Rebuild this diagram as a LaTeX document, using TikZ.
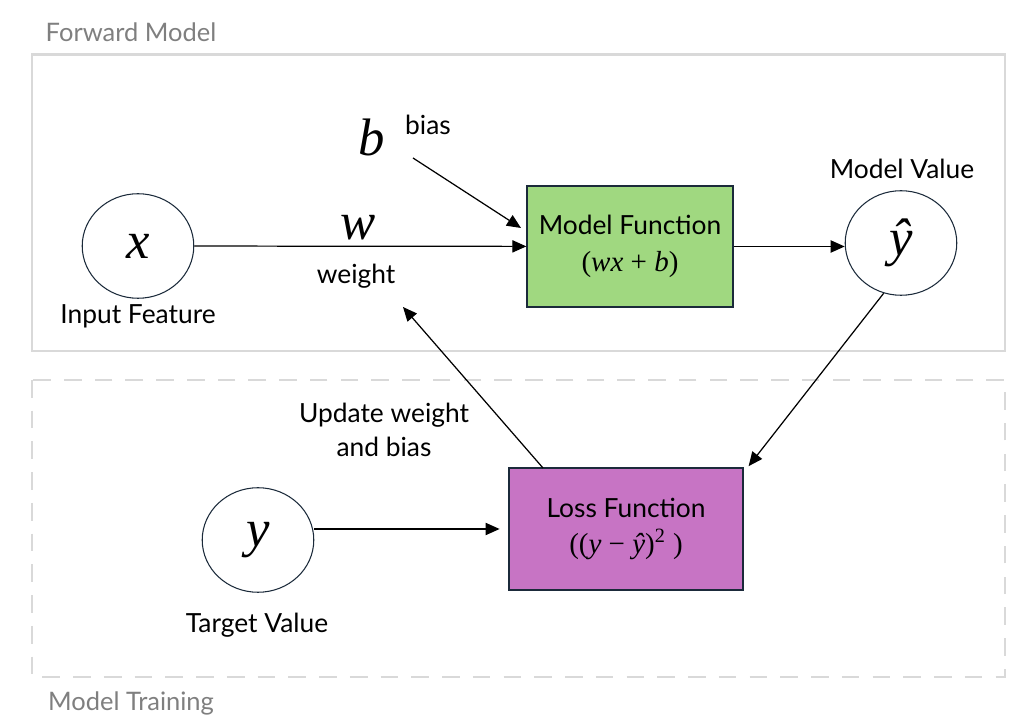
\documentclass[tikz,border=0pt]{standalone}
\usepackage{fontspec}
\setmainfont{Lato}
\newfontfamily\symfont{Liberation Serif}
\usetikzlibrary{arrows.meta,shapes.geometric,calc}
\definecolor{framegray}{HTML}{D9D9D9}
\definecolor{titlegray}{HTML}{7F7F7F}
\definecolor{navy}{HTML}{1B2A3A}
\definecolor{mfgreen}{HTML}{A0D880}
\definecolor{lossmag}{HTML}{C774C4}
\tikzstyle{vertex}=[ellipse,draw=navy,line width=0.6pt,minimum width=63.5pt,minimum height=59.5pt,inner sep=0pt,font=\fontsize{30}{32}\symfont\itshape]
\tikzstyle{funcbox}=[rectangle,draw=navy,line width=1.2pt,align=center,inner sep=0pt,font=\fontsize{15}{21}\selectfont]
\tikzstyle{edge} = [draw,line width=0.7pt,-{Triangle[length=8pt,width=7pt]}]
\tikzstyle{plaintext}=[font=\fontsize{15}{19.5}\selectfont,align=center]
\tikzstyle{symbol}=[font=\fontsize{30}{32}\symfont\itshape]
\tikzstyle{title}=[text=titlegray,font=\fontsize{14.5}{17}\selectfont]
\tikzstyle{frame}=[draw=framegray,line width=1.7pt]
\newcommand{\formula}[1]{{\fontsize{16.5}{20}\symfont #1}}

\begin{document}
\begin{tikzpicture}[x=0.02cm,y=-0.02cm]
    \useasboundingbox (0,0) rectangle (1036,722);

    % section frames
    \draw[frame] (32,55) rectangle (1005,351);
    \draw[frame,dash pattern=on 10pt off 7.5pt] (32,380) rectangle (1005,677);
    \node[title] (fwd) at (131,32) {Forward Model};
    \node[title] (train) at (131,703) {Model Training};

    % vertices
    \foreach \pos/ \name/ \sym in {{(138,246)/x/x}, {(901,243)/yhat/ŷ}, {(258,540)/y/y}}
        \node[vertex] (\name) at \pos {\sym};

    \node[funcbox,fill=mfgreen,minimum width=116.8pt,minimum height=68.6pt] (model) at (630,246.5) {Model Function\\\formula{(\textit{wx} + \textit{b})}};
    \node[funcbox,fill=lossmag,minimum width=132.7pt,minimum height=69.2pt,font=\fontsize{15}{20.5}\selectfont] (loss) at (626,529) {Loss Function\\\formula{((\textit{y} − \textit{ŷ})\textsuperscript{2} )}};

    % symbols and texts
    \node[symbol] (b) at (372,137) {b};
    \node[plaintext] (bias) at (428,125) {bias};
    \node[symbol] (w) at (358,228) {w};
    \node[plaintext] (weight) at (356,276) {weight};
    \node[plaintext] (infeat) at (138,316) {Input Feature};
    \node[plaintext] (modval) at (902,169) {Model Value};
    \node[plaintext] (target) at (257,625) {Target Value};
    \node[plaintext] (update) at (384,430) {Update weight\\and bias};

    % free ends
    \coordinate (bstart) at (413,158);
    \coordinate (bend) at (521,228);
    \coordinate (ustart) at (543,468);
    \coordinate (uend) at (403,307);

    % connectors
    \path[edge] (x) -- (model);
    \path[edge] (model.east) -- (model.east -| yhat.west);
    \path[edge] (bstart) -- (bend);
    \path[edge] (yhat.-109) -- ($(loss.north east)+(5,-1)$);
    \path[edge] (ustart) -- (uend);
    \path[edge,shorten >=5pt] (loss.west -| y.east) -- (loss.west);

\end{tikzpicture}
\end{document}
